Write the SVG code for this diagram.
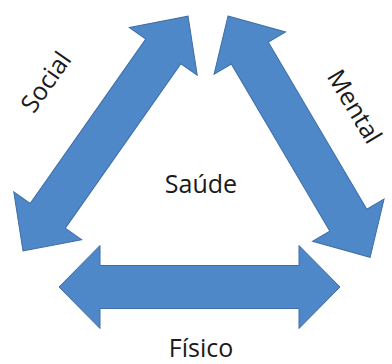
<svg xmlns="http://www.w3.org/2000/svg" width="392" height="364" viewBox="0 0 392 364">
<defs>
<style>
.arr{fill:#4E88C8;stroke:#3D6EA6;stroke-width:1;stroke-linejoin:miter}
.lbl{font-family:"Open Sans","Liberation Sans",sans-serif;font-size:25px;fill:#1a1a1a;text-anchor:middle}
</style>
</defs>
<rect width="392" height="364" fill="#ffffff"/>
<g id="connectors">
<g id="social-arrow" transform="translate(23,251) rotate(-54.9)">
<path class="arr" d="M0,0 L43,-41.5 L43,-21.5 L244,-21.5 L244,-41.5 L287,0 L244,41.5 L244,21.5 L43,21.5 L43,41.5 Z"/>
</g>
<g id="mental-arrow" transform="translate(228,16) rotate(59.5)">
<path class="arr" d="M0,0 L43,-41.5 L43,-21.5 L237,-21.5 L237,-41.5 L280,0 L237,41.5 L237,21.5 L43,21.5 L43,41.5 Z"/>
</g>
<g id="fisico-arrow" transform="translate(59,287)">
<path class="arr" d="M0,0 L41,-41.5 L41,-21.5 L240,-21.5 L240,-41.5 L281,0 L240,41.5 L240,21.5 L41,21.5 L41,41.5 Z"/>
</g>
</g>
<g id="saude"><text class="lbl" x="201" y="193">Saúde</text></g>
<g id="social"><text class="lbl" transform="translate(53,87) rotate(-55)" x="0" y="0">Social</text></g>
<g id="mental"><text class="lbl" transform="translate(347,111) rotate(59)" x="0" y="0">Mental</text></g>
<g id="fisico"><text class="lbl" x="201" y="357">Físico</text></g>
</svg>
